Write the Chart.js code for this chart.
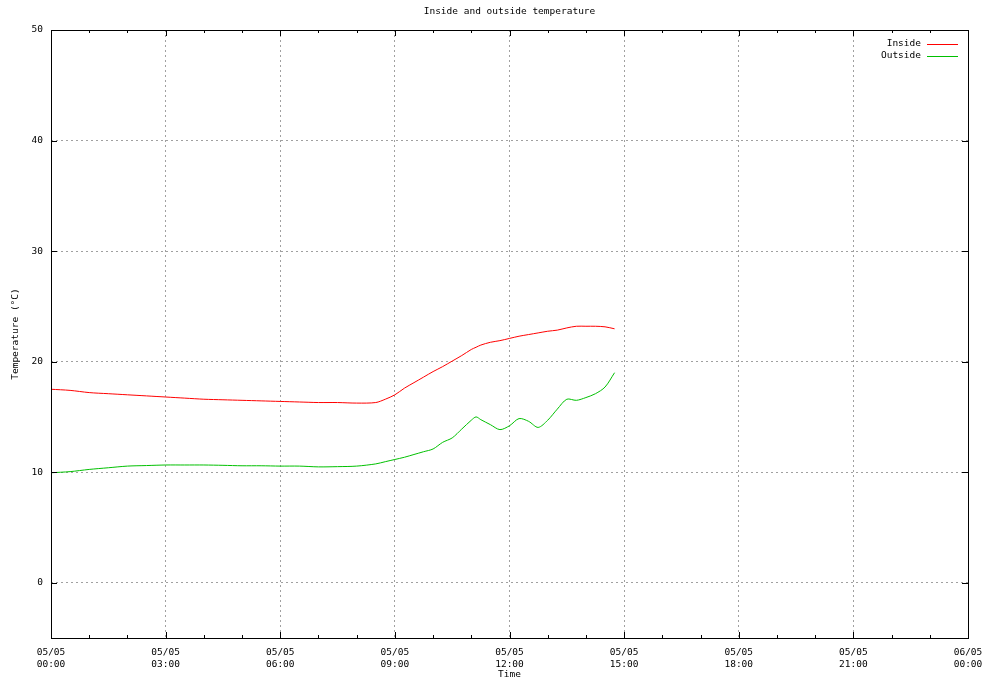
<!DOCTYPE html>
<html>
<head>
<meta charset="utf-8">
<script src="https://cdn.jsdelivr.net/npm/chart.js@4.4.1/dist/chart.umd.min.js"></script>
<style>
	body { margin: 0; background: #fff; }
	#wrap { width: 984px; height: 684px; }
</style>
</head>
<body>
<div id="wrap"><canvas id="tempChart" width="984" height="684"></canvas></div>
<script>
// time of each reading, in hours since 05/05 00:00
//prettier-ignore
const timeHours = [0, 0.5, 1, 1.5, 2, 2.5, 3, 3.5, 4, 4.5, 5, 5.5, 6, 6.5, 7, 7.5, 8, 8.5, 8.75, 9, 9.25, 9.5, 9.75, 10, 10.25, 10.5, 10.75, 11, 11.125, 11.25, 11.5, 11.75, 12, 12.25, 12.5, 12.75, 13, 13.25, 13.5, 13.75, 14, 14.25, 14.5, 14.75];
//prettier-ignore
const insideTemps = [17.5, 17.4, 17.2, 17.1, 17.0, 16.9, 16.8, 16.7, 16.6, 16.55, 16.5, 16.45, 16.4, 16.35, 16.3, 16.3, 16.25, 16.3, 16.6, 17.0, 17.6, 18.1, 18.6, 19.1, 19.55, 20.05, 20.55, 21.1, 21.3, 21.5, 21.75, 21.9, 22.1, 22.3, 22.45, 22.6, 22.75, 22.85, 23.05, 23.2, 23.2, 23.2, 23.15, 22.97];
//prettier-ignore
const outsideTemps = [9.95, 10.05, 10.25, 10.4, 10.55, 10.6, 10.65, 10.65, 10.65, 10.62, 10.58, 10.58, 10.55, 10.55, 10.48, 10.5, 10.55, 10.75, 10.95, 11.15, 11.35, 11.6, 11.85, 12.1, 12.7, 13.1, 13.9, 14.7, 15.0, 14.75, 14.3, 13.85, 14.2, 14.85, 14.6, 14.05, 14.7, 15.7, 16.6, 16.5, 16.75, 17.1, 17.7, 19.0];

const seriesNames = ["Inside", "Outside"];
const seriesColors = ["#ff0000", "#00c000"];

const xTickHours = [0, 3, 6, 9, 12, 15, 18, 21, 24];
//prettier-ignore
const xTickLabels = [["05/05", "00:00"], ["05/05", "03:00"], ["05/05", "06:00"], ["05/05", "09:00"], ["05/05", "12:00"], ["05/05", "15:00"], ["05/05", "18:00"], ["05/05", "21:00"], ["06/05", "00:00"]];
const xMinorHours = Array.from({ length: 25 }, (_, i) => i);
const yTickValues = [0, 10, 20, 30, 40, 50];
const yMinorValues = [-5, 0, 10, 20, 30, 40, 50];

const chartTitle = "Inside and outside temperature";
const MONO = "'DejaVu Sans Mono', monospace";

// gnuplot style frame: border, inward ticks on all sides, title and legend
const gnuplotFrame = {
	id: "gnuplotFrame",
	afterDraw(chart) {
		const { ctx, chartArea: a, scales } = chart;
		const x = scales.x;
		const y = scales.y;
		ctx.save();
		ctx.strokeStyle = "#000";
		ctx.lineWidth = 1;
		ctx.strokeRect(Math.round(a.left) + 0.5, Math.round(a.top) + 0.5, Math.round(a.right - a.left), Math.round(a.bottom - a.top));

		ctx.beginPath();
		xMinorHours.forEach((h) => {
			const px = Math.round(x.getPixelForValue(h)) + 0.5;
			const len = xTickHours.includes(h) ? 6 : 3;
			ctx.moveTo(px, a.bottom);
			ctx.lineTo(px, a.bottom - len);
			ctx.moveTo(px, a.top);
			ctx.lineTo(px, a.top + len);
		});
		yMinorValues.forEach((v) => {
			const py = Math.round(y.getPixelForValue(v)) + 0.5;
			ctx.moveTo(a.left, py);
			ctx.lineTo(a.left + 6, py);
			ctx.moveTo(a.right, py);
			ctx.lineTo(a.right - 6, py);
		});
		ctx.stroke();

		ctx.fillStyle = "#000";
		ctx.font = "9.5px " + MONO;
		ctx.textAlign = "center";
		ctx.textBaseline = "middle";
		ctx.fillText(chartTitle, (a.left + a.right) / 2, 12);

		// legend, text left of the line sample
		ctx.textAlign = "right";
		seriesNames.forEach((name, i) => {
			const ly = a.top + 14 + i * 12;
			ctx.fillStyle = "#000";
			ctx.fillText(name, a.right - 47, ly);
			ctx.strokeStyle = seriesColors[i];
			ctx.beginPath();
			ctx.moveTo(a.right - 41, Math.round(ly) + 0.5);
			ctx.lineTo(a.right - 10, Math.round(ly) + 0.5);
			ctx.stroke();
		});
		ctx.restore();
	},
};

const makeSeries = (values, i) => ({
	label: seriesNames[i],
	data: timeHours.map((h, k) => ({ x: h, y: values[k] })),
	borderColor: seriesColors[i],
	backgroundColor: seriesColors[i],
	borderWidth: 1,
	pointRadius: 0,
	tension: 0.3,
	fill: false,
});

const config = {
	type: "line",
	data: {
		datasets: [makeSeries(insideTemps, 0), makeSeries(outsideTemps, 1)],
	},
	options: {
		responsive: false,
		animation: false,
		layout: { padding: { top: 30, right: 16, left: 0, bottom: 0 } },
		plugins: {
			legend: { display: false },
			title: { display: false },
			tooltip: { enabled: false },
		},
		scales: {
			x: {
				type: "linear",
				min: 0,
				max: 24,
				afterBuildTicks: (s) => {
					s.ticks = xTickHours.map((v) => ({ value: v }));
				},
				afterFit: (s) => {
					s.height = 46;
					s.paddingLeft = 0;
					s.paddingRight = 0;
				},
				ticks: {
					autoSkip: false,
					maxRotation: 0,
					padding: 9,
					color: "#000",
					font: { family: MONO, size: 9.5, lineHeight: "11.5px" },
					callback: (v) => xTickLabels[xTickHours.indexOf(v)],
				},
				grid: { color: "#a0a0a0", drawTicks: false, lineWidth: 1 },
				border: { display: false, dash: [2, 3] },
				title: {
					display: true,
					text: "Time",
					color: "#000",
					font: { family: MONO, size: 9.5, lineHeight: "11.4px" },
					padding: { top: 3.3, bottom: 3.3 },
				},
			},
			y: {
				min: -5,
				max: 50,
				afterBuildTicks: (s) => {
					s.ticks = yTickValues.map((v) => ({ value: v }));
				},
				afterFit: (s) => {
					s.width = 51;
					s.paddingTop = 0;
					s.paddingBottom = 0;
				},
				ticks: {
					padding: 8,
					color: "#000",
					font: { family: MONO, size: 9.5 },
				},
				grid: { color: "#a0a0a0", drawTicks: false, lineWidth: 1 },
				border: { display: false, dash: [2, 3] },
				title: {
					display: true,
					text: "Temperature (°C)",
					color: "#000",
					font: { family: MONO, size: 9.5, lineHeight: "11.4px" },
					padding: { top: 10, bottom: 10 },
				},
			},
		},
	},
	plugins: [gnuplotFrame],
};

new Chart(document.getElementById("tempChart"), config);
</script>
</body>
</html>
